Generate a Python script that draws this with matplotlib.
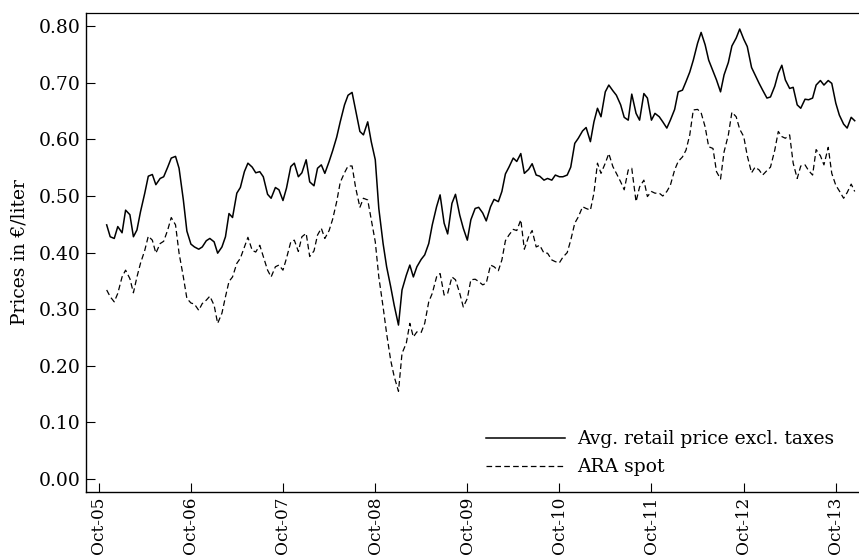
import matplotlib
matplotlib.use("Agg")
import matplotlib.pyplot as plt
import matplotlib.dates as mdates
import pandas as pd

# Semi-monthly observations (1st and 15th of each month), Nov 2005 - Dec 2013, EUR per liter
start_date = "2005-11-01"

retail_excl_taxes = [
    0.449, 0.428, 0.425, 0.446, 0.435, 0.475, 0.467, 0.428, 0.440, 0.472, 0.505, 0.535,
    0.538, 0.520, 0.531, 0.534, 0.551, 0.567, 0.570, 0.549, 0.493, 0.438, 0.415, 0.410,
    0.406, 0.410, 0.421, 0.425, 0.419, 0.399, 0.410, 0.428, 0.469, 0.462, 0.505, 0.515,
    0.543, 0.558, 0.551, 0.541, 0.543, 0.534, 0.503, 0.496, 0.515, 0.511, 0.492, 0.514,
    0.552, 0.558, 0.534, 0.541, 0.564, 0.525, 0.518, 0.549, 0.555, 0.540, 0.561, 0.580,
    0.604, 0.631, 0.661, 0.678, 0.683, 0.652, 0.614, 0.608, 0.631, 0.596, 0.564, 0.478,
    0.416, 0.375, 0.340, 0.307, 0.272, 0.334, 0.360, 0.378, 0.357, 0.375, 0.388, 0.396,
    0.416, 0.449, 0.481, 0.502, 0.452, 0.433, 0.487, 0.503, 0.466, 0.443, 0.422, 0.458,
    0.478, 0.480, 0.470, 0.456, 0.481, 0.494, 0.490, 0.508, 0.539, 0.551, 0.567, 0.561,
    0.575, 0.540, 0.547, 0.557, 0.537, 0.535, 0.528, 0.531, 0.528, 0.537, 0.534, 0.534,
    0.537, 0.551, 0.593, 0.602, 0.615, 0.621, 0.596, 0.631, 0.655, 0.640, 0.684, 0.696,
    0.686, 0.678, 0.661, 0.639, 0.634, 0.680, 0.646, 0.634, 0.681, 0.673, 0.634, 0.646,
    0.640, 0.631, 0.620, 0.634, 0.653, 0.684, 0.687, 0.702, 0.719, 0.740, 0.770, 0.789,
    0.767, 0.740, 0.721, 0.705, 0.684, 0.714, 0.736, 0.765, 0.779, 0.795, 0.777, 0.764,
    0.727, 0.714, 0.699, 0.687, 0.673, 0.675, 0.694, 0.717, 0.731, 0.705, 0.690, 0.692,
    0.661, 0.655, 0.671, 0.670, 0.673, 0.696, 0.704, 0.696, 0.704, 0.699, 0.664, 0.643,
    0.627, 0.620, 0.639, 0.633,
]

ara_spot = [
    0.334, 0.322, 0.313, 0.328, 0.357, 0.369, 0.354, 0.329, 0.357, 0.381, 0.404, 0.429,
    0.422, 0.399, 0.416, 0.420, 0.440, 0.462, 0.449, 0.399, 0.357, 0.319, 0.311, 0.309,
    0.298, 0.310, 0.316, 0.323, 0.307, 0.275, 0.293, 0.322, 0.349, 0.357, 0.381, 0.390,
    0.410, 0.427, 0.404, 0.401, 0.413, 0.393, 0.369, 0.357, 0.375, 0.378, 0.369, 0.390,
    0.419, 0.422, 0.402, 0.428, 0.434, 0.393, 0.403, 0.431, 0.443, 0.425, 0.439, 0.459,
    0.490, 0.524, 0.541, 0.553, 0.553, 0.515, 0.480, 0.496, 0.493, 0.458, 0.419, 0.357,
    0.304, 0.257, 0.210, 0.181, 0.155, 0.222, 0.240, 0.275, 0.251, 0.260, 0.259, 0.275,
    0.313, 0.328, 0.357, 0.363, 0.325, 0.328, 0.357, 0.352, 0.328, 0.304, 0.319, 0.352,
    0.353, 0.349, 0.343, 0.346, 0.378, 0.375, 0.368, 0.387, 0.421, 0.431, 0.441, 0.439,
    0.458, 0.406, 0.428, 0.439, 0.410, 0.413, 0.399, 0.399, 0.387, 0.384, 0.382, 0.392,
    0.400, 0.422, 0.452, 0.463, 0.481, 0.478, 0.475, 0.505, 0.558, 0.540, 0.558, 0.575,
    0.552, 0.540, 0.525, 0.511, 0.546, 0.549, 0.490, 0.516, 0.528, 0.499, 0.508, 0.505,
    0.505, 0.500, 0.508, 0.519, 0.546, 0.561, 0.569, 0.581, 0.608, 0.652, 0.653, 0.647,
    0.622, 0.587, 0.584, 0.543, 0.530, 0.578, 0.608, 0.648, 0.640, 0.618, 0.605, 0.571,
    0.541, 0.551, 0.546, 0.537, 0.545, 0.551, 0.581, 0.614, 0.605, 0.602, 0.608, 0.558,
    0.531, 0.553, 0.555, 0.545, 0.537, 0.582, 0.571, 0.555, 0.586, 0.540, 0.519, 0.509,
    0.496, 0.506, 0.521, 0.508,
]

series_labels = ["Avg. retail price excl. taxes", "ARA spot"]
y_label = "Prices in \u20ac/liter"
y_ticks = [0.0, 0.1, 0.2, 0.3, 0.4, 0.5, 0.6, 0.7, 0.8]

assert len(retail_excl_taxes) == len(ara_spot)
dates = pd.date_range(start=start_date, periods=len(retail_excl_taxes), freq="SMS")

plt.rcParams["font.family"] = ["DejaVu Serif"]
FS = 13.5

fig = plt.figure(figsize=(8.59, 5.57), dpi=100)
ax = fig.add_axes([86 / 859, (557 - 491.7) / 557, (859 - 86) / 859, (491.7 - 13) / 557])

ax.plot(dates, retail_excl_taxes, color="black", lw=1.1, label=series_labels[0])
ax.plot(dates, ara_spot, color="black", lw=0.9, linestyle=(0, (4.5, 2.6)),
        label=series_labels[1])

ax.set_xlim(pd.Timestamp("2005-08-11"), pd.Timestamp("2014-01-01"))
ax.set_ylim(-0.0224, 0.8233)

ax.set_yticks(y_ticks)
ax.yaxis.set_major_formatter(matplotlib.ticker.FormatStrFormatter("%.2f"))
ax.xaxis.set_major_locator(mdates.YearLocator(base=1, month=10, day=1))
ax.xaxis.set_major_formatter(mdates.DateFormatter("%b-%y"))

ax.tick_params(axis="both", direction="in", length=6.3, width=0.8,
               pad=3.6, colors="black")
ax.tick_params(axis="y", labelsize=FS)
ax.tick_params(axis="x", labelsize=12.2, labelrotation=90)
ax.tick_params(top=False, right=False)

for side in ["left", "bottom"]:
    ax.spines[side].set_linewidth(1.0)
ax.spines["top"].set_linewidth(0.9)
ax.spines["right"].set_visible(False)

ax.set_ylabel(y_label, fontsize=FS, labelpad=8)

ax.legend(loc="lower left", bbox_to_anchor=(0.518, 0.032), frameon=False,
          fontsize=FS, handlelength=4.2, handletextpad=0.66, labelspacing=0.55,
          borderpad=0, borderaxespad=0)

fig.savefig("out.png", dpi=100)
